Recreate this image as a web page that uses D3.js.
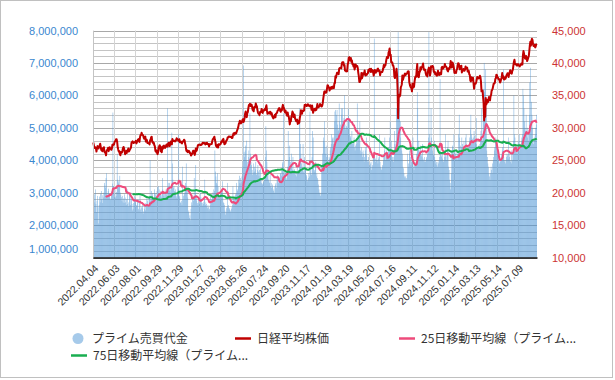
<!DOCTYPE html>
<html><head><meta charset="utf-8">
<script src="https://cdn.jsdelivr.net/npm/d3@7"></script>
<style>body{margin:0;background:#fff}svg{display:block}</style>
</head><body>
<svg id="c" width="615" height="380"></svg>
<script>
// ---- data ----
const tickLabels = ["2022.04.04","2022.06.03","2022.08.01","2022.09.29","2022.11.29","2023.01.27","2023.03.28","2023.05.26","2023.07.24","2023.09.20","2023.11.17","2024.01.19","2024.03.19","2024.05.20","2024.07.16","2024.09.11","2024.11.12","2025.01.14","2025.03.13","2025.05.14","2025.07.09"];
const tickEvery = 40;
const leftTicks = [1000000,2000000,3000000,4000000,5000000,6000000,7000000,8000000];
const rightTicks = [10000,15000,20000,25000,30000,35000,40000,45000];
const legendNames = ["プライム売買代金","日経平均株価","25日移動平均線（プライム...","75日移動平均線（プライム..."];
const valueUnit = 10000; // プライム売買代金 (百万円) = value × 10,000
const tradingValue = [
300,285,295,270,310,265,240,275,290,255,205,262,288,270,296,305,280,268,292,
285,300,330,322,315,345,360,298,290,305,312,285,296,278,282,290,305,328,547,
320,298,286,310,285,290,302,420,340,335,328,318,352,300,292,286,275,290,270,282,268,295,
285,270,262,280,310,265,258,270,296,290,262,300,280,265,245,250,268,275,290,285,
270,262,258,275,280,250,245,268,290,248,240,255,252,262,235,242,250,258,245,268,262,285,
275,260,258,285,290,400,275,280,305,290,298,285,280,310,298,295,282,290,305,318,
295,320,310,298,305,300,285,292,345,310,302,290,298,285,300,310,295,290,560,330,
318,305,330,310,300,325,485,390,340,315,320,305,298,310,290,285,300,318,310,480,
290,285,270,268,275,262,380,280,290,295,300,310,330,390,320,305,285,240,245,222,230,215,
250,270,262,285,290,275,345,290,300,385,290,275,268,262,280,270,265,285,300,
285,270,268,260,272,265,280,340,262,270,265,258,252,262,255,245,250,262,295,
280,278,290,300,295,310,305,430,365,350,330,325,360,320,300,285,290,280,305,300,310,335,
290,270,268,262,245,232,240,252,258,330,255,262,248,252,245,240,250,255,262,320,
285,275,280,290,295,298,330,310,305,318,340,352,330,345,328,335,350,380,398,692,
425,410,430,445,398,460,380,395,410,430,405,545,420,395,385,370,355,362,390,380,365,372,
395,355,360,370,385,365,352,370,345,375,340,330,328,325,332,335,340,345,410,505,
430,395,370,365,340,335,330,355,320,330,315,325,318,305,310,300,320,325,330,315,340,355,
350,330,335,345,360,358,352,375,390,395,545,360,355,370,362,345,340,365,380,490,
400,410,445,395,380,420,385,370,410,365,370,372,360,355,365,350,380,360,365,370,560,
520,450,420,390,375,380,450,365,360,410,380,370,355,350,335,340,345,360,350,550,
370,360,355,410,490,470,380,365,370,390,395,350,360,345,340,325,310,300,295,290,300,
380,390,420,460,470,520,455,420,440,410,445,420,400,395,410,405,430,440,450,
480,470,465,450,470,520,550,555,520,540,555,510,490,495,575,520,510,490,560,
540,560,520,515,530,600,510,495,500,505,520,500,560,535,520,480,470,475,460,490,
460,450,455,470,440,430,445,450,460,575,455,470,480,470,520,430,420,440,425,410,430,
420,395,410,440,430,470,415,400,395,410,395,385,380,390,395,370,380,385,405,420,775,
410,395,405,400,420,400,390,405,410,480,395,380,375,370,380,385,400,410,430,470,
400,420,430,415,410,420,440,435,470,520,430,460,420,410,400,395,410,490,450,440,460,560,
560,650,795,720,610,560,520,470,440,430,420,380,375,360,350,345,350,340,345,355,420,
380,390,430,420,410,385,395,420,400,470,380,370,390,395,385,395,420,610,560,
440,460,420,430,445,420,415,410,450,405,400,395,410,400,395,405,410,420,430,470,795,480,
430,450,560,470,440,430,420,415,460,410,400,390,395,385,380,395,390,400,410,650,
420,410,415,420,405,395,400,410,430,480,410,400,420,440,460,380,370,340,330,310,360,
430,445,440,420,480,430,410,420,425,410,400,420,430,480,540,470,445,430,440,
470,450,440,430,460,430,440,470,480,430,425,435,430,440,460,470,495,540,
480,470,465,450,470,490,475,460,455,530,450,440,435,445,440,430,450,470,490,560,
470,460,560,620,700,610,640,680,560,430,410,390,380,360,350,340,360,380,370,360,390,
400,410,430,440,460,470,450,440,420,430,410,400,390,395,400,410,420,430,440,680,
410,400,395,390,400,410,420,415,405,470,420,410,400,395,430,390,400,420,460,600,480,
470,450,440,430,420,440,460,450,480,430,440,450,460,470,480,620,600,560,520,500,490,540,
490,500,470,460,480,540,640,685,520,580,540,500,460,450,460,470,480,500,510,540
];
const nikkei = [
27736,27350,26888,26985,26986,26821,26334,26843,27172,27093,26799,27150,27217,27553,27105,26590,26700,26386,26847,
26818,27003,26319,26167,26213,25748,26427,26547,26659,26911,26402,26739,27001,26748,26677,26604,26781,27369,27279,
27457,27413,27761,27915,27943,28234,28246,27824,26987,26629,26326,26431,25963,25771,26246,26149,26171,26491,26871,27049,26804,26393,
25935,26153,26423,26107,26490,26517,26812,26337,26478,26643,26788,26961,27680,27803,27914,27699,27655,27715,27815,27801,
27993,27594,27741,27932,28175,28249,27999,27819,28546,28871,28868,29222,28942,28930,28794,28452,28313,28479,28641,27878,28195,28091,
27661,27650,27619,27626,27430,28065,28214,28542,28614,27818,27875,27567,27688,27313,27153,26431,26571,26173,26422,25937,
26215,26992,27120,27311,27116,26401,26396,26237,27090,26775,27156,27257,27006,26890,26974,27250,27431,27345,27105,27587,
27678,27663,27199,27527,27872,27716,27446,28263,27963,27990,28028,27930,27899,27944,28115,28383,28283,28162,28027,27968,
28226,27777,27820,27885,27686,27574,27901,27842,27954,28156,28051,27527,27237,26568,26387,26507,26235,26405,26447,26340,26093,26094,
25716,25820,25973,26175,26446,26449,26119,25822,26138,26791,26405,26553,26906,27299,27395,27362,27382,27433,27327,
27346,27402,27509,27693,27685,27606,27584,27670,27427,27602,27501,27696,27513,27531,27473,27104,27453,27423,27445,
27516,27498,27927,28237,28309,28444,28623,28143,27832,27222,27229,27010,27333,26945,27466,27419,27385,27476,27518,27883,27782,28041,
28188,28287,27813,27473,27518,27633,27923,28082,28156,28493,28514,28658,28606,28657,28564,28593,28620,28416,28457,28856,
29123,29157,28949,29242,29122,29126,29388,29626,29842,30093,30573,30808,31086,30957,30682,30801,30916,31233,31328,30887,
31148,31524,32217,32506,31913,31641,32265,32434,33018,33502,33485,33706,33370,33388,33575,33264,32781,32698,32538,33193,33234,33189,
33753,33422,33338,32773,32388,32189,32203,31943,32419,32391,32493,32896,32490,32304,32700,32682,32668,32891,32759,33172,
33476,32707,32159,32192,32254,32377,32204,32473,32390,32059,32238,31766,31626,31450,31565,31856,32010,31624,32169,32227,32333,32619,
32710,32939,33036,32991,32606,32467,32776,32706,33168,33533,33242,33023,32571,32402,32678,32315,32110,31872,32371,31857,
31759,31238,30526,31075,30995,31746,31936,32494,32315,31659,32040,32042,31430,31259,30999,31062,31269,30601,30991,30697,30859,
31601,31950,32708,32271,32166,32646,32568,32585,32695,33519,33424,33585,33388,33354,33451,33625,33447,33408,33321,33486,
33431,33231,32775,33445,32858,32307,32791,32843,32926,32686,32970,32759,33219,33675,33141,33169,33255,33305,33681,33540,33464,
33288,33377,33763,34441,35049,35577,35619,35477,35390,35466,35963,36546,36517,36226,36236,35751,36026,36065,36286,
36011,36158,36354,36160,36119,36863,36897,37963,37703,38157,38487,38470,38363,38262,39098,39233,39239,39208,39166,
39910,40109,40097,40090,39598,39688,38820,38797,38695,38807,38708,39740,40004,40816,40888,40415,40398,40762,40168,40369,
39803,39838,39451,39773,38992,39347,39773,39582,39442,39523,39232,38471,37962,37068,37068,37438,37552,38460,37628,37934,38405,
38274,38236,38835,38202,38073,38229,38179,38356,38385,38920,38787,39069,38946,38617,39103,38646,38900,38855,38556,38054,38487,
38923,38837,38490,38703,38683,39038,39134,38876,38720,38814,38102,38482,38570,38633,38596,38804,39173,39667,39341,39583,
39631,40074,40580,40913,40912,40780,41580,41831,42224,41190,41275,40097,40126,40063,39599,39594,39154,37870,37667,38468,38525,39101,
38126,35909,31458,34675,35089,34831,35025,36232,36442,36726,38062,37388,37671,37951,38211,38364,38110,38288,38371,38362,38647,
38700,38686,37047,36657,36391,36215,36159,35619,36833,36581,36203,36380,37155,37723,37940,37870,38925,39829,37919,
38651,37808,38552,38635,39332,38937,39277,39380,39605,39910,39180,38911,38981,38954,38412,38104,38143,37913,38605,39027,39277,39081,
38053,38474,39480,39381,39500,39533,39376,38721,38536,38642,38220,38414,38352,38026,38283,38780,38442,38134,38349,38208,
38513,38248,39276,39395,39091,39160,39367,39372,39849,39470,39457,39364,39081,38813,38701,39161,39036,39130,39568,40281,39894,
39307,40083,39981,39605,39190,38474,38444,38572,38451,38902,39027,39646,39958,39931,39565,39016,39414,39513,39572,
38520,38798,38831,39066,38787,38801,38963,39461,39149,39174,39270,38678,38776,38776,38237,38142,37256,37155,
37785,37331,37418,37704,36887,36028,36793,36819,36790,37053,37396,37845,37751,37677,37608,37780,38027,37799,37120,35617,
35624,35725,34735,33780,31136,33012,31714,34609,33586,33982,34267,33920,34377,34730,34280,34221,34868,35039,35705,35839,36045,
36452,36830,36831,36928,37503,37644,38183,38128,37755,37753,37498,37529,37299,36985,37160,37531,37724,38432,37722,37965,
37470,37446,37747,37554,37741,38088,38211,38421,38173,37834,38311,38536,38885,38488,38403,38354,38790,38942,39584,40150,40487,
39986,39762,39785,39810,39587,39688,39821,39646,39570,39459,39678,39663,39901,39819,39774,41171,41826,41456,40998,40675,40654,41069,
40800,40290,40549,40794,41059,41820,42718,43274,42649,43378,43714,43546,42888,42610,42633,42807,42394,42520,42829,42718
];

// ---- derived series (moving averages of the trading value) ----
const volume = tradingValue.map(v => v * valueUnit);
function movingAvg(arr, n) {
  return arr.map((_, i) => i < n - 1 ? null : d3.mean(arr.slice(i - n + 1, i + 1)));
}
const ma25 = movingAvg(volume, 25);
const ma75 = movingAvg(volume, 75);
const N = volume.length;

// ---- chart ----
const svg = d3.select("#c");
const L = 93, R = 537, T = 30.5, B = 257.5;
const x = d3.scaleBand().domain(d3.range(N)).range([L, R]).padding(0);
const bw = x.bandwidth();
const yL = d3.scaleLinear().domain([1000000, 8000000]).range([B, T]);
const yR = d3.scaleLinear().domain([10000, 45000]).range([B, T]);

svg.append("rect").attr("x", 0.5).attr("y", 0.5).attr("width", 612).attr("height", 377)
  .attr("fill", "#fff").attr("stroke", "#c0c0c0");

// horizontal grid every 200,000
const gGrid = svg.append("g");
d3.range(1000000, 8000001, 200000).forEach(v => {
  const yy = Math.round(yL(v)) + 0.5;
  gGrid.append("line").attr("x1", L).attr("x2", R).attr("y1", yy).attr("y2", yy)
    .attr("stroke", v % 1000000 === 0 ? "#a8a8a8" : "#c4c4c4").attr("stroke-width", 1);
});
// vertical grid at each label
d3.range(0, N, tickEvery).forEach(i => {
  const xx = Math.round(x(i)) + 0.5;
  gGrid.append("line").attr("x1", xx).attr("x2", xx).attr("y1", T).attr("y2", B)
    .attr("stroke", "#d4d4d4");
});

// bars
svg.append("g").attr("opacity", 0.75).selectAll("rect").data(volume).join("rect")
  .attr("x", (d, i) => x(i)).attr("width", bw)
  .attr("y", d => yL(d)).attr("height", d => yL(1000000) - yL(d))
  .attr("fill", "#4e96d6");

// lines
const lineR = d3.line().x((d, i) => x(i) + bw / 2).y(d => yR(d));
const lineL = d3.line().defined(d => d != null).x((d, i) => x(i) + bw / 2).y(d => yL(d));
svg.append("path").datum(nikkei).attr("d", lineR).attr("fill", "none")
  .attr("stroke", "#c00000").attr("stroke-width", 2).attr("stroke-linejoin", "round");
svg.append("path").datum(ma25).attr("d", lineL).attr("fill", "none")
  .attr("stroke", "#ee4b7b").attr("stroke-width", 2).attr("stroke-linejoin", "round");
svg.append("path").datum(ma75).attr("d", lineL).attr("fill", "none")
  .attr("stroke", "#19ae50").attr("stroke-width", 2).attr("stroke-linejoin", "round");

// axes
const font = "'Liberation Sans', Arial, sans-serif";
const axL = svg.append("g").attr("transform", `translate(${L},0)`)
  .call(d3.axisLeft(yL).tickValues(leftTicks).tickFormat(d3.format(",")).tickSize(0).tickPadding(15));
axL.select(".domain").attr("stroke", "#c4c4c4");
axL.selectAll("text").attr("fill", "#3a87cf").style("font-family", font).style("font-size", "11px")
  .attr("dy", d => d === leftTicks[0] ? "-0.5em" : "0.32em");

const axR = svg.append("g").attr("transform", `translate(${R},0)`)
  .call(d3.axisRight(yR).tickValues(rightTicks).tickFormat(d3.format(",")).tickSize(0).tickPadding(15));
axR.select(".domain").remove();
axR.selectAll("text").attr("fill", "#cc3333").style("font-family", font).style("font-size", "11px");

const axB = svg.append("g").attr("transform", `translate(0,${B})`)
  .call(d3.axisBottom(x).tickValues(d3.range(0, N, tickEvery)).tickFormat((d, i) => tickLabels[i]).tickSize(0));
axB.select(".domain").attr("stroke", "#111").attr("stroke-width", 1.5);
axB.selectAll("text").attr("fill", "#333").style("font-family", font).style("font-size", "10.5px")
  .attr("text-anchor", "end").attr("x", 0).attr("y", 0).attr("dy", "0.35em")
  .attr("transform", "translate(3,9) rotate(-45)");

// legend
const lg = svg.append("g").style("font-family", "'Noto Sans CJK JP', sans-serif").style("font-size", "12px");
const item = (mx, my, kind, color, label) => {
  if (kind === "dot") lg.append("circle").attr("cx", mx + 8).attr("cy", my).attr("r", 5.5).attr("fill", color).attr("opacity", 0.5);
  else lg.append("line").attr("x1", mx).attr("x2", mx + 16).attr("y1", my).attr("y2", my).attr("stroke", color).attr("stroke-width", 2.5);
  lg.append("text").attr("x", mx + 22).attr("y", my).attr("dy", "0.35em").attr("fill", "#333").text(label);
};
item(70, 338.5, "dot", "#4e96d6", legendNames[0]);
item(235, 338.5, "line", "#c00000", legendNames[1]);
item(399, 338.5, "line", "#ee4b7b", legendNames[2]);
item(71, 355.5, "line", "#19ae50", legendNames[3]);
</script>
</body></html>
